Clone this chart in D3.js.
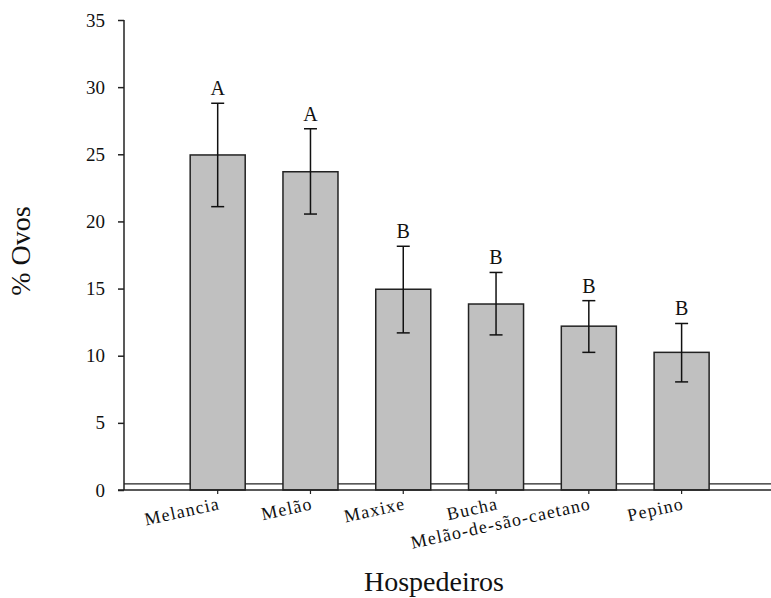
<!DOCTYPE html>
<html><head><meta charset="utf-8">
<script src="https://cdn.jsdelivr.net/npm/d3@7"></script>
<style>body{margin:0;background:#fff}svg{display:block}</style>
</head><body>
<svg id="c" width="771" height="598"></svg>
<script>
const categories = ["Melancia","Melão","Maxixe","Bucha","Melão-de-são-caetano","Pepino"];
const values = [24.95, 23.7, 14.95, 13.85, 12.2, 10.25];
const errUpper = [28.8, 26.9, 18.15, 16.2, 14.1, 12.4];
const errLower = [21.1, 20.55, 11.7, 11.55, 10.25, 8.05];
const letters = ["A","A","B","B","B","B"];
const yTicks = [0,5,10,15,20,25,30,35];
const refLine = 0.45;

const svg = d3.select("#c");
const font = "Liberation Serif";
const y = d3.scaleLinear().domain([0,35]).range([490,20]);
const x = d3.scaleBand().domain(categories).range([171.3,728]).paddingInner(0.407).paddingOuter(0.2035);

// reference line
svg.append("line").attr("x1",124).attr("x2",771).attr("y1",y(refLine)).attr("y2",y(refLine))
  .attr("stroke","#222").attr("stroke-width",1.2);

// bars
svg.selectAll("rect.bar").data(categories).join("rect")
  .attr("x",d=>x(d)).attr("width",x.bandwidth())
  .attr("y",(d,i)=>y(values[i])).attr("height",(d,i)=>y(0)-y(values[i]))
  .attr("fill","#c0c0c0").attr("stroke","#222").attr("stroke-width",1.5);

// error bars
const cx = d=>x(d)+x.bandwidth()/2;
const eb = svg.append("g").attr("stroke","#111").attr("stroke-width",1.5);
categories.forEach((d,i)=>{
  eb.append("line").attr("x1",cx(d)).attr("x2",cx(d)).attr("y1",y(errUpper[i])).attr("y2",y(errLower[i]));
  eb.append("line").attr("x1",cx(d)-6.5).attr("x2",cx(d)+6.5).attr("y1",y(errUpper[i])).attr("y2",y(errUpper[i]));
  eb.append("line").attr("x1",cx(d)-6.5).attr("x2",cx(d)+6.5).attr("y1",y(errLower[i])).attr("y2",y(errLower[i]));
});

// letters
svg.selectAll("text.let").data(categories).join("text")
  .attr("x",d=>cx(d)).attr("y",(d,i)=>y(errUpper[i])-8)
  .attr("text-anchor","middle").attr("font-family",font).attr("font-size",20).attr("fill","#111")
  .text((d,i)=>letters[i]);

// y axis
const yAxis = d3.axisLeft(y).tickValues(yTicks).tickSize(6).tickPadding(13);
const gy = svg.append("g").attr("transform","translate(124,0)").call(yAxis);
gy.select(".domain").attr("stroke","#222").attr("stroke-width",1.5).attr("d","M0,20V490");
gy.selectAll(".tick line").attr("stroke","#222").attr("stroke-width",1.5);
gy.selectAll(".tick text").attr("font-family",font).attr("font-size",19).attr("fill","#111");

// x axis
const xAxis = d3.axisBottom(x).tickSize(4).tickFormat("");
const gx = svg.append("g").attr("transform","translate(0,490)").call(xAxis);
gx.select(".domain").attr("d","M118,0H771").attr("stroke","#222").attr("stroke-width",1.5);
gx.selectAll(".tick line").attr("stroke","#222").attr("stroke-width",1.2);

svg.selectAll("text.xl").data(categories).join("text")
  .attr("text-anchor","end").attr("font-family",font).attr("font-size",18).attr("fill","#111")
  .attr("letter-spacing",1.2)
  .attr("transform",d=>`translate(${cx(d)+3},509) rotate(-12.5)`)
  .text(d=>d);

// titles
svg.append("text").attr("x",434).attr("y",591).attr("text-anchor","middle")
  .attr("font-family",font).attr("font-size",28).attr("fill","#111").text("Hospedeiros");
svg.append("text").attr("transform","translate(30,251) rotate(-90)").attr("text-anchor","middle")
  .attr("font-family",font).attr("font-size",28).attr("fill","#111").text("% Ovos");
</script>
</body></html>
